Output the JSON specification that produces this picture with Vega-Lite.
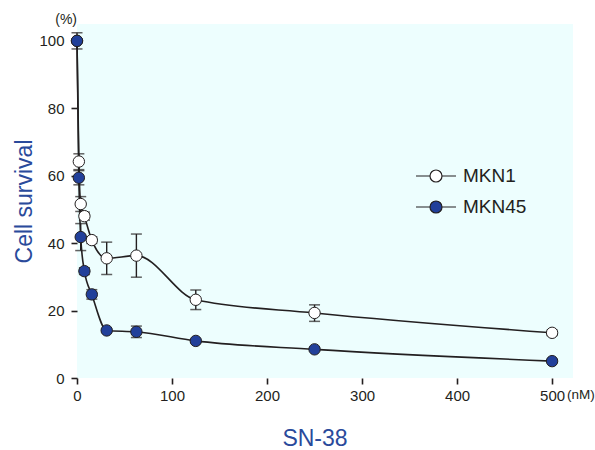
{
  "$schema": "https://vega.github.io/schema/vega-lite/v6.json",
  "width": 496,
  "height": 354,
  "autosize": {"type": "none"},
  "padding": {"left": 77, "top": 24, "right": 22, "bottom": 72},
  "background": "white",
  "config": {
    "view": {"fill": "#edfefe", "stroke": null},
    "font": "Liberation Sans"
  },
  "datasets": {
    "pts": [
      {"series": "MKN1", "conc": 0, "survival": 100, "lo": null, "hi": null},
      {"series": "MKN1", "conc": 1.95, "survival": 64.2, "lo": 61.8, "hi": 66.5},
      {"series": "MKN1", "conc": 3.9, "survival": 51.6, "lo": 49.4, "hi": 53.8},
      {"series": "MKN1", "conc": 7.8, "survival": 48.0, "lo": 46.8, "hi": 49.2},
      {"series": "MKN1", "conc": 15.6, "survival": 40.9, "lo": 39.9, "hi": 41.9},
      {"series": "MKN1", "conc": 31.25, "survival": 35.5, "lo": 30.7, "hi": 40.3},
      {"series": "MKN1", "conc": 62.5, "survival": 36.3, "lo": 29.9, "hi": 42.7},
      {"series": "MKN1", "conc": 125, "survival": 23.2, "lo": 20.3, "hi": 26.1},
      {"series": "MKN1", "conc": 250, "survival": 19.3, "lo": 16.8, "hi": 21.7},
      {"series": "MKN1", "conc": 500, "survival": 13.4, "lo": 12.6, "hi": 14.2},
      {"series": "MKN45", "conc": 0, "survival": 100, "lo": 97.6, "hi": 102.4},
      {"series": "MKN45", "conc": 1.95, "survival": 59.4, "lo": 57.3, "hi": 61.5},
      {"series": "MKN45", "conc": 3.9, "survival": 41.8, "lo": 37.8, "hi": 45.8},
      {"series": "MKN45", "conc": 7.8, "survival": 31.7, "lo": 30.7, "hi": 32.7},
      {"series": "MKN45", "conc": 15.6, "survival": 24.8, "lo": 23.4, "hi": 26.2},
      {"series": "MKN45", "conc": 31.25, "survival": 14.1, "lo": 13.6, "hi": 14.6},
      {"series": "MKN45", "conc": 62.5, "survival": 13.7, "lo": 12.0, "hi": 15.4},
      {"series": "MKN45", "conc": 125, "survival": 11.0, "lo": 10.5, "hi": 11.5},
      {"series": "MKN45", "conc": 250, "survival": 8.5, "lo": 8.0, "hi": 9.0},
      {"series": "MKN45", "conc": 500, "survival": 5.0, "lo": 4.5, "hi": 5.5}
    ],
    "units": [
      {"label": "(%)", "conc": 0, "survival": 106.2, "kind": "y"},
      {"label": "(nM)", "conc": 500, "survival": 0, "kind": "x"}
    ]
  },
  "layer": [
    {
      "data": {"name": "pts"},
      "transform": [{"filter": "datum.lo != null"}],
      "mark": {"type": "rule", "color": "#231f20", "strokeWidth": 1.4},
      "encoding": {
        "x": {
          "field": "conc", "type": "quantitative",
          "scale": {"domain": [0, 522], "nice": false, "zero": false},
          "axis": {
            "values": [0, 100, 200, 300, 400, 500],
            "domain": false, "grid": false, "labelFlush": false,
            "tickSize": 6, "tickWidth": 1.6, "tickColor": "#231f20",
            "labelFontSize": 15, "labelColor": "#231f20", "labelPadding": 4,
            "title": "SN-38", "titleFontSize": 23, "titleFontWeight": "normal",
            "titleColor": "#2a4a9b", "titleX": 237.5, "titlePadding": 24
          }
        },
        "y": {
          "field": "lo", "type": "quantitative",
          "scale": {"domain": [0, 105], "nice": false, "zero": false},
          "axis": {
            "values": [0, 20, 40, 60, 80, 100],
            "domain": false, "grid": false,
            "tickSize": 6, "tickWidth": 1.6, "tickColor": "#231f20",
            "labelFontSize": 15, "labelColor": "#231f20", "labelPadding": 7,
            "title": "Cell survival", "titleFontSize": 23, "titleFontWeight": "normal",
            "titleColor": "#2a4a9b", "titlePadding": 2
          }
        },
        "y2": {"field": "hi"}
      }
    },
    {
      "data": {"name": "pts"},
      "transform": [
        {"filter": "datum.lo != null"},
        {"fold": ["lo", "hi"], "as": ["end", "val"]}
      ],
      "mark": {"type": "tick", "orient": "horizontal", "size": 11, "thickness": 1.5, "color": "#231f20"},
      "encoding": {
        "x": {"field": "conc", "type": "quantitative"},
        "y": {"field": "val", "type": "quantitative"}
      }
    },
    {
      "mark": {"type": "rule", "color": "#231f20", "strokeWidth": 1.8},
      "encoding": {
        "x": {"datum": 0, "type": "quantitative"},
        "y": {"datum": 0, "type": "quantitative"},
        "x2": {"datum": 500}
      }
    },
    {
      "mark": {"type": "rule", "color": "#231f20", "strokeWidth": 1.8},
      "encoding": {
        "x": {"datum": 0, "type": "quantitative"},
        "y": {"datum": 0, "type": "quantitative"},
        "y2": {"datum": 101}
      }
    },
    {
      "data": {"name": "pts"},
      "mark": {"type": "line", "interpolate": "monotone", "color": "#231f20", "strokeWidth": 1.6},
      "encoding": {
        "x": {"field": "conc", "type": "quantitative"},
        "y": {"field": "survival", "type": "quantitative"},
        "detail": {"field": "series"}
      }
    },
    {
      "data": {"name": "pts"},
      "mark": {"type": "point", "shape": "circle", "filled": true, "size": 130, "stroke": "#231f20", "strokeWidth": 1, "opacity": 1},
      "encoding": {
        "x": {"field": "conc", "type": "quantitative"},
        "y": {"field": "survival", "type": "quantitative"},
        "fill": {
          "field": "series", "type": "nominal",
          "scale": {"domain": ["MKN1", "MKN45"], "range": ["#ffffff", "#22409a"]},
          "legend": {
            "title": null, "orient": "none", "legendX": 338, "legendY": 131,
            "padding": 0,
            "symbolType": "M-1,0H-0.3M0.3,0H1M-0.3,0A0.3,0.3,0,1,0,0.3,0A0.3,0.3,0,1,0,-0.3,0Z",
            "symbolSize": 1600, "symbolStrokeColor": "#231f20", "symbolStrokeWidth": 1.2,
            "symbolOpacity": 1,
            "labelFontSize": 19, "labelColor": "#231f20", "labelOffset": 6,
            "rowPadding": -14
          }
        }
      }
    },
    {
      "data": {"name": "units"},
      "transform": [{"filter": "datum.kind == 'y'"}],
      "mark": {"type": "text", "align": "right", "baseline": "middle", "fontSize": 14, "color": "#231f20", "clip": false},
      "encoding": {
        "x": {"field": "conc", "type": "quantitative"},
        "y": {"field": "survival", "type": "quantitative"},
        "text": {"field": "label"}
      }
    },
    {
      "data": {"name": "units"},
      "transform": [{"filter": "datum.kind == 'x'"}],
      "mark": {"type": "text", "align": "left", "baseline": "top", "fontSize": 13.5, "dx": 15, "dy": 10, "color": "#231f20", "clip": false},
      "encoding": {
        "x": {"field": "conc", "type": "quantitative"},
        "y": {"field": "survival", "type": "quantitative"},
        "text": {"field": "label"}
      }
    }
  ]
}
